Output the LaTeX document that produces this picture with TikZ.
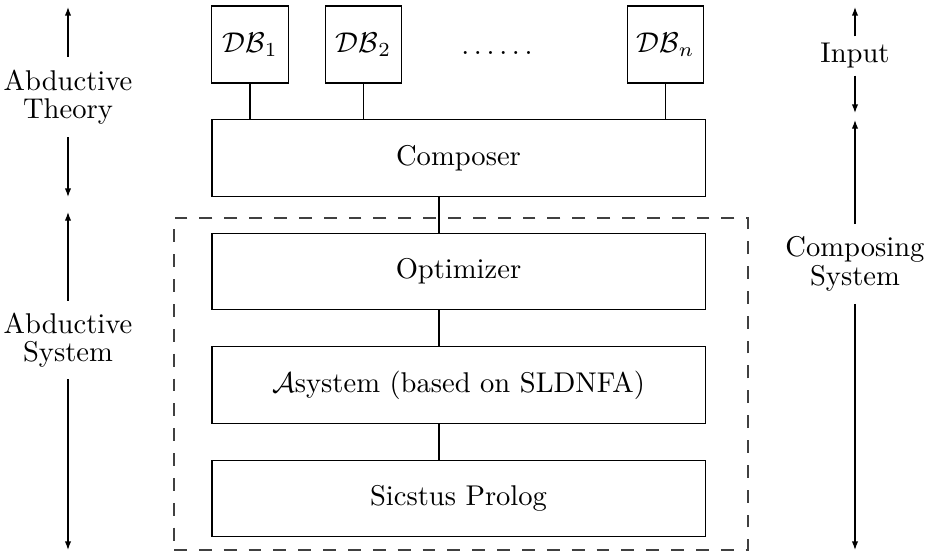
\documentclass[tikz,border=0pt]{standalone}
\usetikzlibrary{arrows.meta}
\begin{document}
\begin{tikzpicture}[x=0.35pt,y=-0.35pt,
  dbbox/.style={draw, minimum width=26.8pt, minimum height=27pt, inner sep=0pt},
  layer/.style={draw, minimum width=172.6pt, minimum height=26.7pt, inner sep=0pt},
  frame/.style={draw=black!75, dash pattern=on 4.5pt off 4.2pt, minimum width=200.9pt, minimum height=116.2pt, inner sep=0pt},
  side/.style={align=center, inner xsep=0pt, font={\fontsize{10pt}{10pt}\selectfont}},
  span/.style={-{Latex[length=3pt,width=2.2pt]}},
  link/.style={draw}
]
\useasboundingbox (0,0) rectangle (939,553);

% databases
\node[dbbox] (db1) at (250,44.5) {$\mathcal{DB}_1$};
\node[dbbox] (db2) at (363.5,44.5) {$\mathcal{DB}_2$};
\node (dots) at (497,53) {$\ldots\ldots$};
\node[dbbox] (dbn) at (665.5,44.5) {$\mathcal{DB}_n$};

% layers
\node[layer] (comp) at (458.5,158) {Composer};
\node[frame] (abd) at (461,384) {};
\node[layer] (opt) at (458.5,271.5) {Optimizer};
\node[layer] (asys) at (458.5,385) {$\mathcal{A}$system (based on SLDNFA)};
\node[layer] (sic) at (458.5,498.5) {Sicstus Prolog};

% links
\coordinate (spine) at (439,0);
\draw[link] (db1.south) -- (db1 |- comp.north);
\draw[link] (db2.south) -- (db2 |- comp.north);
\draw[link] (dbn.south) -- (dbn |- comp.north);
\draw[link] (comp.south -| spine) -- (opt.north -| spine);
\draw[link] (opt.south -| spine) -- (asys.north -| spine);
\draw[link] (asys.south -| spine) -- (sic.north -| spine);

% left spans
\node[side, inner ysep=4.2pt] (lt) at (68,97) {Abductive\\Theory};
\node[side, inner ysep=3.85pt] (ls) at (68,340) {Abductive\\System};
\coordinate (lt1) at (68,7);
\coordinate (lt2) at (68,197);
\coordinate (ls1) at (68,212);
\coordinate (ls2) at (68,550);
\draw[span] (lt.north) -- (lt1);
\draw[span] (lt.south) -- (lt2);
\draw[span] (ls.north) -- (ls1);
\draw[span] (ls.south) -- (ls2);

% right spans
\node[side, inner ysep=2.3pt] (ri) at (855,56) {Input};
\node[side, inner ysep=4.2pt] (rc) at (855,264) {Composing\\System};
\coordinate (ri1) at (855,7);
\coordinate (ri2) at (855,113);
\coordinate (rc1) at (855,120);
\coordinate (rc2) at (855,550);
\draw[span] (ri.north) -- (ri1);
\draw[span] (ri.south) -- (ri2);
\draw[span] (rc.north) -- (rc1);
\draw[span] (rc.south) -- (rc2);
\end{tikzpicture}
\end{document}
